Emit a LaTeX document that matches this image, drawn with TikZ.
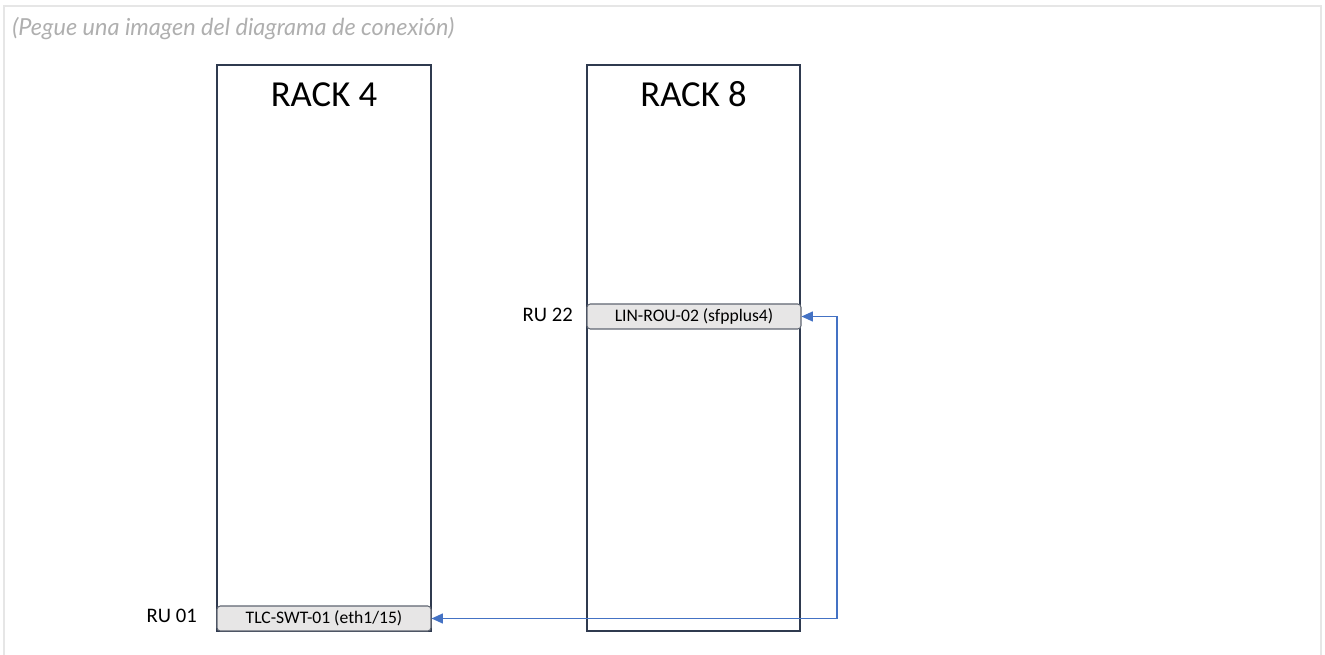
\documentclass[tikz,border=0pt]{standalone}
\usepackage{fontspec}
\setmainfont{Carlito}
\newfontfamily\notefont{Lato}
\usepackage{xcolor}
\usetikzlibrary{arrows.meta,positioning,calc}

\definecolor{rackline}{RGB}{47,58,79}
\definecolor{devfill}{RGB}{231,230,230}
\definecolor{devline}{RGB}{96,102,114}
\definecolor{linkblue}{RGB}{68,114,196}
\definecolor{framegray}{RGB}{230,230,230}
\definecolor{notegray}{RGB}{175,175,175}

\begin{document}
\begin{tikzpicture}[x=0.75pt, y=-0.75pt, >=Stealth,
    rack/.style={rectangle, draw=rackline, line width=1.4pt, minimum width=160pt, minimum height=424.5pt, inner sep=0pt},
    racktitle/.style={font=\fontsize{27.5}{30}\selectfont, text=black, inner sep=0pt},
    device/.style={rectangle, rounded corners=2.5pt, draw=devline, line width=0.8pt, fill=devfill, minimum width=160.5pt, minimum height=18.75pt, inner sep=0pt, font=\fontsize{13.2}{14}\selectfont},
    ulabel/.style={font=\fontsize{15.5}{17}\selectfont, inner sep=0pt},
    link/.style={draw=linkblue, line width=0.9pt, {Triangle[length=8.5pt,width=7.5pt]}-{Triangle[length=8.5pt,width=7.5pt]}}]
    \useasboundingbox (0,0) rectangle (1325,655);

    % Outer frame of the form field
    \draw[framegray, line width=1.6pt] (4,655) -- (4,6) -- (1321,6) -- (1321,655);
    \node[anchor=base west, inner sep=0pt, text=notegray, font=\notefont\itshape\fontsize{17.6}{19}\selectfont] (note) at (12,36) {(Pegue una imagen del diagrama de conexi\'on)};

    % Racks
    \node[rack] (rack4) at (324,348) {};
    \node[rack] (rack8) at (693.5,348) {};
    \node[racktitle, anchor=base] (t4) at (324,107) {RACK 4};
    \node[racktitle, anchor=base] (t8) at (693.5,107) {RACK 8};

    % Devices
    \node[device] (lin) at (694,316.5) {LIN-ROU-02 (sfpplus4)};
    \node[device] (tlc) at (324,618.5) {TLC-SWT-01 (eth1/15)};

    % Rack units
    \node[ulabel, anchor=base east] (ru22) at (573,322) {RU 22};
    \node[ulabel, anchor=base east] (ru01) at (197,623) {RU 01};

    % Cable
    \coordinate (bend) at (837,0);
    \draw[link] (lin.east) -- (lin.east -| bend) |- (tlc.east);
\end{tikzpicture}
\end{document}
